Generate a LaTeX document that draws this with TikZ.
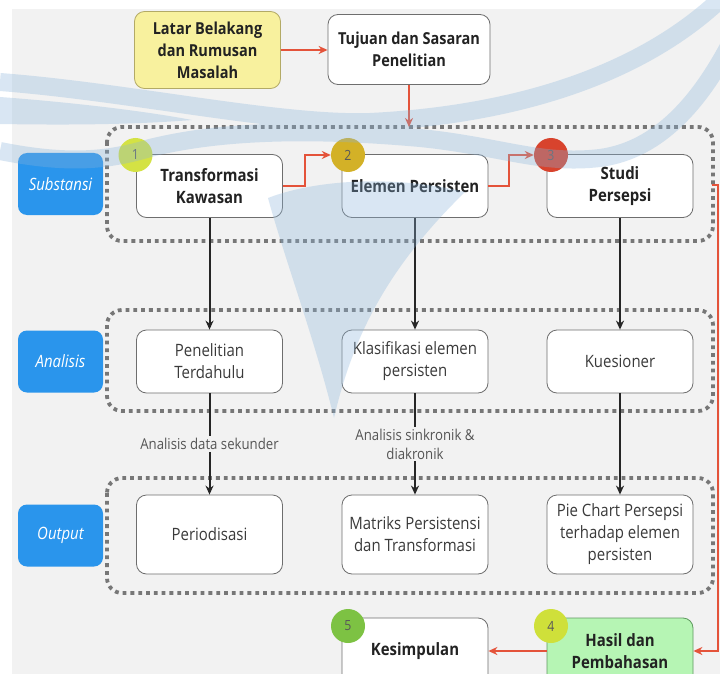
\documentclass[tikz,border=0pt]{standalone}
\usepackage{fontspec}
\setmainfont{Open Sans}[FakeStretch=0.88]
\usetikzlibrary{arrows.meta}
\definecolor{bg}{HTML}{F2F2F2}
\definecolor{wmc}{HTML}{8AB4DA}
\definecolor{boxline}{HTML}{6E6E6E}
\definecolor{frameline}{HTML}{777777}
\definecolor{redc}{HTML}{E4533A}
\definecolor{bluelab}{HTML}{2A95EC}
\definecolor{yel}{HTML}{F8F19E}
\definecolor{yelline}{HTML}{B3AA66}
\definecolor{grn}{HTML}{B6F5B4}
\definecolor{grnline}{HTML}{5F9A5F}
\definecolor{cA}{HTML}{D4E244}
\definecolor{cB}{HTML}{D3B127}
\definecolor{cC}{HTML}{D8432D}
\definecolor{cD}{HTML}{CFE03A}
\definecolor{cE}{HTML}{7DC243}
\definecolor{txt}{HTML}{222222}
\definecolor{txtreg}{HTML}{3A3A3A}
\definecolor{lbltxt}{HTML}{555555}
\tikzset{
  boxw/.style={draw=boxline, fill=white, rounded corners=10pt, minimum width=146pt,
    minimum height=63pt, align=center, inner sep=2pt, line width=0.8pt, text=txtreg,
    font=\fontsize{17}{22}\selectfont},
  boldbox/.style={boxw, text=txt, font=\fontsize{17}{22}\selectfont\bfseries},
  frame/.style={draw=frameline, line width=3.8pt, dash pattern=on 3.8pt off 4pt,
    rounded corners=15pt},
  bluebox/.style={fill=bluelab, rounded corners=9pt, minimum width=85pt, minimum height=62pt,
    text=white, font=\fontsize{17}{20}\selectfont\itshape},
  redarrow/.style={draw=redc, line width=2pt, -{Stealth[length=9pt,width=8pt]}},
  blackarrow/.style={draw=black!85, line width=2pt, -{Stealth[length=9pt,width=8pt]}},
  lbl/.style={fill=bg, text=lbltxt, align=center, inner sep=2pt,
    font=\fontsize{15}{19}\selectfont},
  numc/.style={circle, minimum size=34pt, inner sep=0pt, text=black!65,
    font=\fontsize{14}{16}\selectfont},
  wmband/.style={draw=wmc, line width=18pt, line cap=butt}
}
\begin{document}
\begin{tikzpicture}[x=1pt,y=-1pt]
\useasboundingbox (0,0) rectangle (720,674);
\clip (0,0) rectangle (720,674);
\fill[white] (0,0) rectangle (720,674);
\fill[bg] (12,9) rectangle (720,674);
% frames
\draw[frame] (107,127) rectangle (713,241);
\draw[frame] (107,310) rectangle (713,411);
\draw[frame] (107,478) rectangle (713,593);
% side labels
\node[bluebox] (lsub) at (60.5,184) {Substansi};
\node[bluebox] (lana) at (60.5,361.5) {Analisis};
\node[bluebox] (lout) at (60.5,535.5) {Output};
% top boxes
\node[boldbox, fill=yel, draw=yelline, minimum width=146pt, minimum height=77pt,
  font=\fontsize{16.5}{22}\selectfont\bfseries] (latar) at (207.5,50)
  {Latar Belakang\\dan Rumusan\\Masalah};
\node[boldbox, minimum width=162pt, minimum height=70pt,
  font=\fontsize{16.5}{22}\selectfont\bfseries] (tujuan) at (409,49.5)
  {Tujuan dan Sasaran\\Penelitian};
% row 1
\node[boldbox] (t1) at (209.5,186) {Transformasi\\Kawasan};
\node[boldbox] (t2) at (415,186) {Elemen Persisten};
\node[boldbox] (t3) at (620,186) {Studi\\Persepsi};
% row 2
\node[boxw] (a1) at (209.5,361.5) {Penelitian\\Terdahulu};
\node[boxw] (a2) at (415,361.5) {Klasifikasi elemen\\persisten};
\node[boxw] (a3) at (620,361.5) {Kuesioner};
% row 3
\node[boxw, minimum height=79pt] (o1) at (209.5,534.5) {Periodisasi};
\node[boxw, minimum height=79pt] (o2) at (415,534.5) {Matriks Persistensi\\dan Transformasi};
\node[boxw, minimum height=79pt] (o3) at (620,534.5) {Pie Chart Persepsi\\terhadap elemen\\persisten};
% bottom
\node[boldbox, minimum height=66pt] (kes) at (415,651) {Kesimpulan};
\node[boldbox, fill=grn, draw=grnline, minimum height=66pt] (has) at (620,651)
  {Hasil dan\\Pembahasan};
% connectors
\coordinate (ftop) at (409,127);
\coordinate (rstart) at (712,185);
\coordinate (rturn) at (718,400);
\draw[redarrow] (latar.east |- 0,50) -- (tujuan.west |- 0,50);
\draw[redarrow] (tujuan.south) -- (ftop);
\draw[blackarrow] (t1.south) -- (a1.north);
\draw[blackarrow] (t2.south) -- (a2.north);
\draw[blackarrow] (t3.south) -- (a3.north);
\draw[blackarrow] (a1.south) -- node[lbl] {Analisis data sekunder} (o1.north);
\draw[blackarrow] (a2.south) -- node[lbl] {Analisis sinkronik \&\\diakronik} (o2.north);
\draw[blackarrow] (a3.south) -- (o3.north);
% circles
\node[numc, fill=cA] (n1) at (135.5,155) {1};
\node[numc, fill=cB] (n2) at (348,155) {2};
\node[numc, fill=cC] (n3) at (551,155) {3};
\node[numc, fill=cE] (n5) at (348,626) {5};
\node[numc, fill=cD] (n4) at (551,626) {4};
\draw[redarrow] (t1.east) -- ++(22,0) |- (n2.west);
\draw[redarrow] (t2.east) -- ++(21,0) |- (n3.west);
\draw[redarrow] (rstart) -| (rturn) |- (has.east);
\draw[redarrow] (has.west) -- (kes.east);
% watermark overlay
\begin{scope}[transparency group, opacity=0.32]
\draw[wmband] (0,82) .. controls (130,92) and (280,125) .. (370,122)
  .. controls (450,118) and (620,100) .. (728,-8);
\draw[wmband] (0,151) .. controls (70,165) and (110,160) .. (150,148)
  .. controls (230,128) and (330,130) .. (420,138)
  .. controls (500,146) and (540,165) .. (600,158)
  .. controls (660,150) and (700,100) .. (728,48);
\fill[wmc] (0,97) .. controls (80,103) and (150,112) .. (192,120)
  .. controls (130,125) and (60,125) .. (0,124) -- cycle;
\fill[wmc] (268,198) .. controls (285,260) and (315,340) .. (334,418)
  .. controls (352,340) and (385,270) .. (465,192)
  .. controls (400,176) and (320,178) .. cycle;
\end{scope}
\end{tikzpicture}
\end{document}
